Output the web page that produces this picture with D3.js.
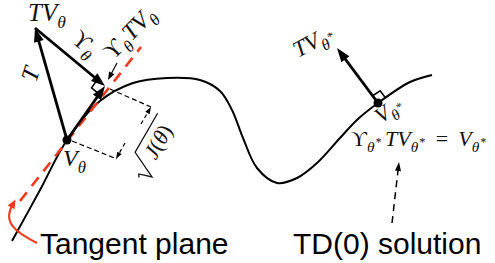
<!DOCTYPE html>
<html>
<head>
<meta charset="utf-8">
<script src="https://cdn.jsdelivr.net/npm/d3@7"></script>
<style>
  body { margin: 0; background: #fff; }
</style>
</head>
<body>
<div id="fig"></div>
<script>
// figure units: x to the right, y upwards, 1 unit = 10 px
const curvePts = [
  [1.2, 2.2], [4.0, 7.3], [6.7, 12.3], [10.0, 16.2], [13.3, 18.0], [16.7, 18.5],
  [20.0, 18.3], [22.0, 17.2], [23.2, 15.3], [24.3, 12.5], [25.7, 9.5], [27.7, 8.0],
  [29.7, 8.5], [31.7, 10.0], [34.0, 12.5], [35.8, 14.4], [37.8, 16.0], [41.0, 18.1], [43.2, 18.8]
];
const vTheta = [6.7, 12.3];       // V_theta
const tvTheta = [3.5, 23.5];      // T V_theta
const proj = [10.5, 17.7];        // projection back onto the tangent plane
const tangentLine = [[2.0, 6.2], [14.1, 21.6]];
const vStar = [37.8, 16.0];       // fixed point V_theta*
const tvStar = [33.7, 21.5];      // T V_theta*

// sqrt(J) measurement: extension lines and the two halves of the dimension line
const extLines = [[[11.0, 17.4], [15.1, 15.6]], [[7.2, 12.2], [11.7, 10.4]]];
const dimLines = [[[14.1, 13.9], [15.1, 15.6]], [[12.5, 12.0], [11.6, 10.4]]];

const pointerArrow = [[11.7, 20.0], [10.8, 18.3]];
const tdArrow = [[39.2, 4.0], [39.9, 10.1]];
const redHook = [[3.7, 2.0], [1.5, 3.1], [0.2, 4.1], [1.3, 5.9]];

// math labels: [text, style]  i = italic, r = roman, s = subscript, u = superscript of subscript
const labels = [
  { pos: [2.8, 24.2], rot: 0,   size: 25, parts: [["T", "i"], ["V", "i"], ["θ", "s"]] },
  { pos: [3.6, 18.0], rot: -72, size: 24, parts: [["T", "i"]] },
  { pos: [7.0, 22.2], rot: 40,  size: 24, parts: [["ϒ", "r"], ["θ", "s"]] },
  { pos: [11.3, 20.2], rot: -46, size: 24, parts: [["ϒ", "r"], ["θ", "s"], ["T", "i", 1], ["V", "i"], ["θ", "s"]] },
  { pos: [6.3, 9.7],  rot: 0,   size: 24, parts: [["V", "i"], ["θ", "s"]] },
  { pos: [29.8, 20.5], rot: -28, size: 23, parts: [["T", "i"], ["V", "i"], ["θ", "s"], ["*", "u"]] },
  { pos: [38.1, 13.9], rot: -35, size: 22, parts: [["V", "i"], ["θ", "s"], ["*", "u"]] },
  { pos: [35.1, 11.7], rot: 0,   size: 22, parts: [["ϒ", "r"], ["θ", "s"], ["*", "u"], ["T", "i", 4], ["V", "i"], ["θ", "s"], ["*", "u"],
                                                 ["=", "r", 11], ["V", "i", 10], ["θ", "s"], ["*", "u"]] }
];
const sqrtLabel = { pos: [15.2, 8.6], rot: -60, size: 22 };
const captions = [
  { text: "Tangent plane", pos: [4.0, 0.9] },
  { text: "TD(0) solution", pos: [29.3, 0.9] }
];

const W = 495, H = 263;
const red = "#ee3a1f";
const serif = "'Liberation Serif', 'DejaVu Serif', serif";

const x = d3.scaleLinear().domain([0, 49.5]).range([0, W]);
const y = d3.scaleLinear().domain([0, 26.3]).range([H, 0]);

const svg = d3.select("#fig").append("svg")
  .attr("width", W)
  .attr("height", H)
  .attr("viewBox", `0 0 ${W} ${H}`);

// ---------- helpers ----------
function arrow(g, a, b, opt) {
  const x1 = x(a[0]), y1 = y(a[1]), x2 = x(b[0]), y2 = y(b[1]);
  const ang = Math.atan2(y2 - y1, x2 - x1);
  const c = Math.cos(ang), s = Math.sin(ang);
  const L = opt.head, hw = opt.headW / 2;
  g.append("line")
    .attr("x1", x1).attr("y1", y1)
    .attr("x2", x2 - c * L * 0.7).attr("y2", y2 - s * L * 0.7)
    .attr("stroke", opt.color || "#000")
    .attr("stroke-width", opt.width)
    .attr("stroke-dasharray", opt.dash || null);
  g.append("path")
    .attr("d", `M${x2},${y2}L${x2 - L * c - hw * s},${y2 - L * s + hw * c}L${x2 - L * c + hw * s},${y2 - L * s - hw * c}Z`)
    .attr("fill", opt.color || "#000");
}

function rightAngle(g, corner, toA, toB, size) {
  const cx = x(corner[0]), cy = y(corner[1]);
  const unit = p => {
    const dx = x(p[0]) - cx, dy = y(p[1]) - cy, n = Math.hypot(dx, dy);
    return [dx / n * size, dy / n * size];
  };
  const u = unit(toA), v = unit(toB);
  g.append("path")
    .attr("d", `M${cx + u[0]},${cy + u[1]}L${cx + u[0] + v[0]},${cy + u[1] + v[1]}L${cx + v[0]},${cy + v[1]}`)
    .attr("fill", "none")
    .attr("stroke", "#000")
    .attr("stroke-width", 1.6);
}

function mathLabel(g, L) {
  const t = g.append("text")
    .attr("transform", `translate(${x(L.pos[0])},${y(L.pos[1])}) rotate(${L.rot})`)
    .attr("font-family", serif)
    .attr("font-size", L.size)
    .attr("fill", "#111");
  let level = 0;
  L.parts.forEach(([txt, st, dx]) => {
    const target = st === "s" ? L.size * 0.28 : st === "u" ? L.size * 0.02 : 0;
    const fs = st === "s" ? 0.7 : st === "u" ? 0.55 : 1;
    t.append("tspan")
      .attr("dy", target - level)
      .attr("dx", dx || (st === "u" ? 0.5 : 0))
      .attr("font-size", L.size * fs)
      .attr("font-style", st === "r" ? "normal" : "italic")
      .text(txt);
    level = target;
  });
}

// ---------- curve ----------
const line = d3.line().x(d => x(d[0])).y(d => y(d[1])).curve(d3.curveCatmullRom.alpha(0.5));
svg.append("path")
  .attr("d", line(curvePts))
  .attr("fill", "none")
  .attr("stroke", "#000")
  .attr("stroke-width", 2);

// ---------- tangent plane (red dashed) ----------
svg.append("line")
  .attr("x1", x(tangentLine[0][0])).attr("y1", y(tangentLine[0][1]))
  .attr("x2", x(tangentLine[1][0])).attr("y2", y(tangentLine[1][1]))
  .attr("stroke", red)
  .attr("stroke-width", 2.6)
  .attr("stroke-dasharray", "11,8");

// red hook arrow from the caption
const hook = d3.path();
hook.moveTo(x(redHook[0][0]), y(redHook[0][1]));
hook.bezierCurveTo(x(redHook[1][0]), y(redHook[1][1]), x(redHook[2][0]), y(redHook[2][1]), x(redHook[3][0]), y(redHook[3][1]));
svg.append("path")
  .attr("d", hook.toString())
  .attr("fill", "none")
  .attr("stroke", red)
  .attr("stroke-width", 2);
arrow(svg, redHook[3], [1.55, 6.35], { head: 9, headW: 8, width: 0, color: red });

// ---------- sqrt(J) measurement ----------
const dims = svg.append("g");
extLines.forEach(l => {
  dims.append("line")
    .attr("x1", x(l[0][0])).attr("y1", y(l[0][1]))
    .attr("x2", x(l[1][0])).attr("y2", y(l[1][1]))
    .attr("stroke", "#000")
    .attr("stroke-width", 1.2)
    .attr("stroke-dasharray", "5,3");
});
dimLines.forEach(l => arrow(dims, l[0], l[1], { head: 7, headW: 5, width: 1.2, dash: "4,3" }));

// ---------- operator arrows ----------
rightAngle(svg, proj, tvTheta, vTheta, 10);
arrow(svg, vTheta, tvTheta, { head: 14, headW: 10, width: 2.8 });
arrow(svg, tvTheta, proj, { head: 14, headW: 10, width: 2.8 });
arrow(svg, vTheta, proj, { head: 14, headW: 10, width: 2.8 });
arrow(svg, pointerArrow[0], pointerArrow[1], { head: 8, headW: 6, width: 1.2 });

rightAngle(svg, vStar, tvStar, curvePts[curvePts.length - 2], 9);
arrow(svg, vStar, tvStar, { head: 14, headW: 10, width: 2.8 });

arrow(svg, tdArrow[0], tdArrow[1], { head: 9, headW: 6, width: 1.5, dash: "7,5" });

svg.selectAll("circle.pt")
  .data([vTheta, vStar])
  .join("circle")
  .attr("class", "pt")
  .attr("cx", d => x(d[0]))
  .attr("cy", d => y(d[1]))
  .attr("r", 4.5)
  .attr("fill", "#000");

// ---------- labels ----------
labels.forEach(L => mathLabel(svg, L));

// sqrt(J(theta)), drawn in its own rotated frame
const sq = svg.append("g")
  .attr("transform", `translate(${x(sqrtLabel.pos[0])},${y(sqrtLabel.pos[1])}) rotate(${sqrtLabel.rot})`);
sq.append("path")
  .attr("d", "M-7,-11L-4,-13L0,0L13,-27L58,-27")
  .attr("fill", "none")
  .attr("stroke", "#111")
  .attr("stroke-width", 1.3);
const sqt = sq.append("text")
  .attr("x", 16).attr("y", -5)
  .attr("font-family", serif)
  .attr("font-size", sqrtLabel.size)
  .attr("fill", "#111");
sqt.append("tspan").attr("font-style", "italic").text("J");
sqt.append("tspan").text("(");
sqt.append("tspan").attr("font-style", "italic").text("θ");
sqt.append("tspan").text(")");

svg.selectAll("text.cap")
  .data(captions)
  .join("text")
  .attr("class", "cap")
  .attr("x", d => x(d.pos[0]))
  .attr("y", d => y(d.pos[1]))
  .attr("font-family", "'Liberation Sans', Arial, sans-serif")
  .attr("font-size", 30)
  .attr("fill", "#000")
  .text(d => d.text);
</script>
</body>
</html>
